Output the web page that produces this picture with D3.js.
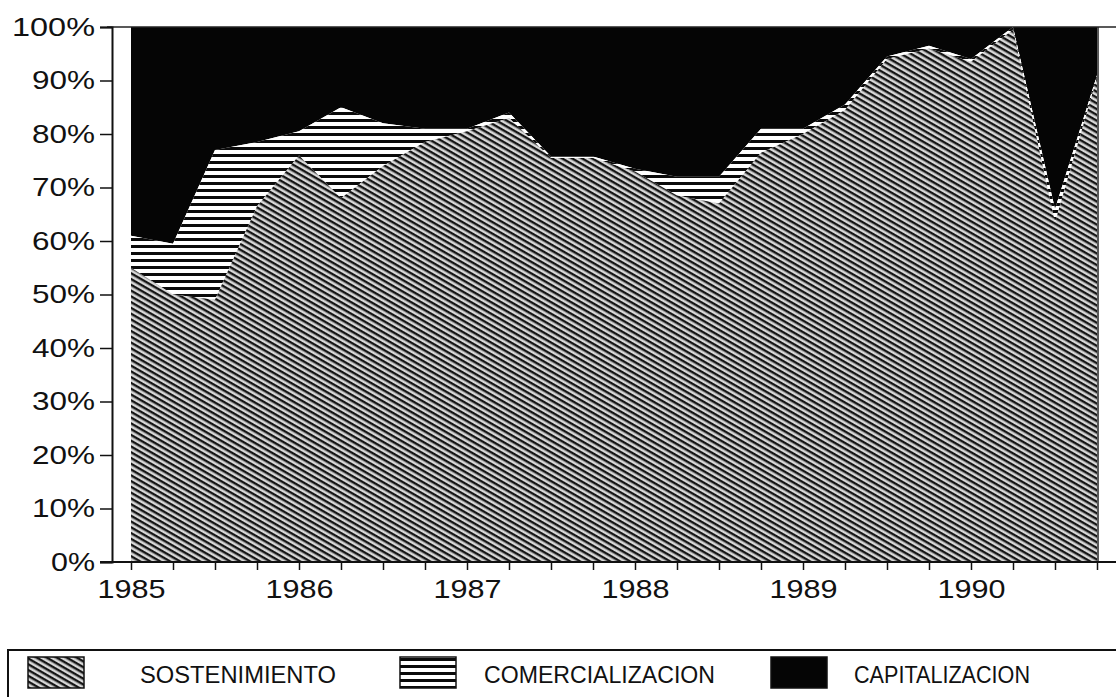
<!DOCTYPE html>
<html>
<head>
<meta charset="utf-8">
<script src="https://cdn.jsdelivr.net/npm/d3@7"></script>
<style>
  body { margin: 0; background: #fff; }
  svg { display: block; }
  text { font-family: "Liberation Sans", Arial, sans-serif; fill: #111; }
</style>
</head>
<body>
<svg id="chart" width="1116" height="697"></svg>
<script>
// quarterly shares (%)
var periods = [1985, 1985.25, 1985.5, 1985.75, 1986, 1986.25, 1986.5, 1986.75,
               1987, 1987.25, 1987.5, 1987.75, 1988, 1988.25, 1988.5, 1988.75,
               1989, 1989.25, 1989.5, 1989.75, 1990, 1990.25, 1990.5, 1990.75];
var sostenimiento    = [55, 50, 49, 66.5, 76, 68, 74, 78.5, 80.5, 83, 75.5, 75.5,
                        73, 68.5, 67, 76.5, 80, 84.5, 94, 96, 93.5, 99.5, 63.5, 90.5];
var comercializacion = [6, 9.5, 28, 12, 4.5, 17, 8, 2.5, 0.5, 1, 0.3, 0.3,
                        0.5, 3.5, 5, 4.5, 1, 1, 0.5, 0.5, 0.5, 0.5, 2.5, 0.5];
var capitalizacion   = [39, 40.5, 23, 21.5, 19.5, 15, 18, 19, 19, 16, 24.2, 24.2,
                        26.5, 28, 28, 19, 19, 14.5, 5.5, 3.5, 6, 0, 34, 9];
var yTicks = [0, 10, 20, 30, 40, 50, 60, 70, 80, 90, 100];
var keys = ["sost", "comer", "capit"];
var legendNames = ["SOSTENIMIENTO", "COMERCIALIZACION", "CAPITALIZACION"];

var rows = periods.map(function(p, i) {
  return { t: p, sost: sostenimiento[i], comer: comercializacion[i], capit: capitalizacion[i] };
});

var svg = d3.select("#chart");
var x = d3.scaleLinear().domain([1985, 1990.75]).range([131, 1097]);
var y = d3.scaleLinear().domain([0, 100]).range([562, 27]);

// patterns
var defs = svg.append("defs");
var hatch = defs.append("pattern")
  .attr("id", "hatch").attr("patternUnits", "userSpaceOnUse")
  .attr("width", 20).attr("height", 5)
  .attr("patternTransform", "rotate(30)");
hatch.append("rect").attr("width", 20).attr("height", 5).attr("fill", "#d8d8d8");
hatch.append("rect").attr("width", 20).attr("height", 2.4).attr("fill", "#151515");

var stripes = defs.append("pattern")
  .attr("id", "stripes").attr("patternUnits", "userSpaceOnUse")
  .attr("width", 10).attr("height", 7);
stripes.append("rect").attr("width", 10).attr("height", 7).attr("fill", "#0a0a0a");
stripes.append("rect").attr("y", 3).attr("width", 10).attr("height", 4).attr("fill", "#fff");

var fills = { sost: "url(#hatch)", comer: "url(#stripes)", capit: "#050505" };

var series = d3.stack().keys(keys)(rows);
var area = d3.area()
  .x(function(d) { return x(d.data.t); })
  .y0(function(d) { return y(d[0]); })
  .y1(function(d) { return y(d[1]); });

// draw capitalizacion first so the others sit on top of it
svg.append("g").selectAll("path")
  .data(series.slice().reverse())
  .join("path")
  .attr("fill", function(d) { return fills[d.key]; })
  .attr("d", area);

// frame lines
svg.append("line").attr("x1", 107).attr("x2", 1116).attr("y1", y(100)).attr("y2", y(100))
  .attr("stroke", "#222").attr("stroke-width", 1.5);
svg.append("line").attr("x1", x(1990.75) + 1).attr("x2", x(1990.75) + 1).attr("y1", y(100)).attr("y2", y(0))
  .attr("stroke", "#222").attr("stroke-width", 1.5);

// y axis
var yAxis = svg.append("g")
  .attr("transform", "translate(112,0)")
  .call(d3.axisLeft(y).tickValues(yTicks).tickSize(12).tickPadding(5)
    .tickFormat(function(d) { return d + "%"; }));
yAxis.select(".domain").attr("stroke", "#111").attr("stroke-width", 2);
yAxis.selectAll(".tick line").attr("stroke", "#111").attr("stroke-width", 1.5);
yAxis.selectAll(".tick text")
  .attr("font-size", 25).attr("fill", "#111")
  .attr("textLength", function(d) { return d === 100 ? 83 : (d === 0 ? 44 : 63); })
  .attr("lengthAdjust", "spacingAndGlyphs");

// x axis
var xAxis = svg.append("g")
  .attr("transform", "translate(0," + y(0) + ")")
  .call(d3.axisBottom(x).tickValues(periods).tickSize(8).tickPadding(10)
    .tickFormat(function(d) { return Number.isInteger(d) ? d : ""; }));
xAxis.select(".domain").remove();
xAxis.append("line").attr("x1", 100).attr("x2", 1116)
  .attr("stroke", "#111").attr("stroke-width", 2);
xAxis.selectAll(".tick line").attr("stroke", "#111").attr("stroke-width", 1.5);
xAxis.selectAll(".tick text")
  .attr("font-size", 26).attr("fill", "#111")
  .attr("textLength", function(d) { return Number.isInteger(d) ? 68 : null; })
  .attr("lengthAdjust", "spacingAndGlyphs");

// legend
var legend = svg.append("g");
legend.append("rect").attr("x", 8).attr("y", 650).attr("width", 1120).attr("height", 60)
  .attr("fill", "none").attr("stroke", "#111").attr("stroke-width", 2);

var swX = [28, 400, 771];
var txX = [140, 484, 854];
var txW = [196, 231, 176];
keys.forEach(function(k, i) {
  legend.append("rect").attr("x", swX[i]).attr("y", 657).attr("width", 56).attr("height", 31)
    .attr("fill", fills[k]).attr("stroke", "#111").attr("stroke-width", 1.5);
  legend.append("text").attr("x", txX[i]).attr("y", 683)
    .attr("font-size", 24)
    .attr("textLength", txW[i]).attr("lengthAdjust", "spacingAndGlyphs")
    .text(legendNames[i]);
});
</script>
</body>
</html>
